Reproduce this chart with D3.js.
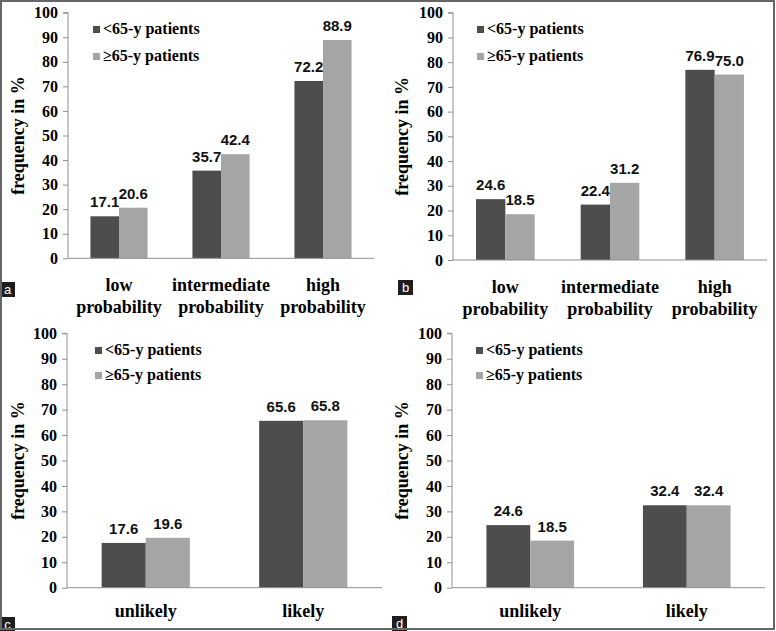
<!DOCTYPE html>
<html>
<head>
<meta charset="utf-8">
<script src="https://cdn.jsdelivr.net/npm/d3@7"></script>
<style>
  html, body { margin: 0; padding: 0; background: #fff; }
  svg { display: block; }
  .serif { font-family: "Liberation Serif", "DejaVu Serif", "Times New Roman", serif; font-weight: bold; }
  .sans { font-family: "Liberation Sans", Arial, sans-serif; font-weight: bold; }
</style>
</head>
<body>
<svg id="chart" width="776" height="631"></svg>
<script>
// ---- data ----
const seriesNames = ["<65-y patients", "\u226565-y patients"];
const categoriesProb = [["low", "probability"], ["intermediate", "probability"], ["high", "probability"]];
const categoriesLik = [["unlikely"], ["likely"]];
const yTicks = [0, 10, 20, 30, 40, 50, 60, 70, 80, 90, 100];

const panelAYoung = [17.1, 35.7, 72.2];
const panelAOld   = [20.6, 42.4, 88.9];
const panelBYoung = [24.6, 22.4, 76.9];
const panelBOld   = [18.5, 31.2, 75.0];
const panelCYoung = [17.6, 65.6];
const panelCOld   = [19.6, 65.8];
const panelDYoung = [24.6, 32.4];
const panelDOld   = [18.5, 32.4];

const panelLetters = ["a", "b", "c", "d"];

// ---- layout / style ----
const colors = ["#4d4d4d", "#a5a5a5"];
const axisColor = "#8f8f8f";

const panels = [
  { cats: categoriesProb, young: panelAYoung, old: panelAOld, x0: 68, x1: 374, yTop: 12.7, yBot: 258.3,
    legend: { x: 93, y: 26, dy: 27 }, titleX: 18, letter: { x: 0, y: 282 }, labelY: 291 },
  { cats: categoriesProb, young: panelBYoung, old: panelBOld, x0: 453, x1: 767, yTop: 12.7, yBot: 260,
    legend: { x: 477, y: 26, dy: 27 }, titleX: 402, letter: { x: 398, y: 280 }, labelY: 293 },
  { cats: categoriesLik, young: panelCYoung, old: panelCOld, x0: 67, x1: 382, yTop: 333.3, yBot: 587.7,
    legend: { x: 95, y: 347, dy: 25 }, titleX: 18, letter: { x: 0, y: 617 }, labelY: 617 },
  { cats: categoriesLik, young: panelDYoung, old: panelDOld, x0: 452, x1: 765, yTop: 333.3, yBot: 587.7,
    legend: { x: 476, y: 347, dy: 25 }, titleX: 402, letter: { x: 392, y: 616 }, labelY: 617 }
];

const svg = d3.select("#chart");

panels.forEach((p, pi) => {
  const g = svg.append("g");
  const catIdx = p.cats.map((c, i) => i);
  const x = d3.scaleBand().domain(catIdx).range([p.x0, p.x1]).padding(0);
  const groupFrac = 0.56;
  const x1 = d3.scaleBand().domain([0, 1])
    .range([x.bandwidth() * (1 - groupFrac) / 2, x.bandwidth() * (1 + groupFrac) / 2]).padding(0);
  const y = d3.scaleLinear().domain([0, 100]).range([p.yBot, p.yTop]);

  // y axis
  const yAxis = d3.axisLeft(y).tickValues(yTicks).tickSize(5).tickPadding(5).tickFormat(d3.format("d"));
  const ya = g.append("g").attr("transform", `translate(${p.x0},0)`).call(yAxis);
  ya.attr("font-family", null).attr("font-size", null);
  ya.select(".domain").attr("stroke", axisColor).attr("d", `M-5,${p.yTop}H0V${p.yBot}`);
  ya.selectAll(".tick line").attr("stroke", axisColor);
  ya.selectAll(".tick text").attr("fill", "#000").attr("class", "serif").style("font-size", "16px");

  // bars
  const data = catIdx.map(i => [p.young[i], p.old[i]]);
  const cg = g.selectAll("g.cat").data(data).join("g").attr("class", "cat")
    .attr("transform", (d, i) => `translate(${x(i)},0)`);
  cg.selectAll("rect").data(d => d.map((v, s) => ({ v, s }))).join("rect")
    .attr("x", d => x1(d.s)).attr("width", x1.bandwidth())
    .attr("y", d => y(d.v)).attr("height", d => y(0) - y(d.v))
    .attr("fill", d => colors[d.s]);
  cg.selectAll("text.val").data(d => d.map((v, s) => ({ v, s }))).join("text").attr("class", "val sans")
    .attr("x", d => x1(d.s) + x1.bandwidth() / 2).attr("y", d => y(d.v) - 9)
    .attr("text-anchor", "middle").style("font-size", "15px")
    .attr("fill", "#111").text(d => d3.format(".1f")(d.v));

  // x axis line
  g.append("line").attr("x1", p.x0).attr("x2", p.x1).attr("y1", y(0)).attr("y2", y(0))
    .attr("stroke", axisColor).attr("stroke-width", 1);

  // category labels
  p.cats.forEach((lines, i) => {
    const t = g.append("text").attr("class", "serif").attr("text-anchor", "middle")
      .attr("x", x(i) + x.bandwidth() / 2).attr("y", p.labelY)
      .style("font-size", "18px").attr("fill", "#000");
    lines.forEach((ln, li) => {
      t.append("tspan").attr("x", x(i) + x.bandwidth() / 2).attr("dy", li === 0 ? 0 : 22).text(ln);
    });
  });

  // y title
  const midY = (p.yTop + p.yBot) / 2;
  g.append("text").attr("class", "serif").attr("transform", `translate(${p.titleX + 6},${midY}) rotate(-90)`)
    .attr("text-anchor", "middle").style("font-size", "18px")
    .attr("fill", "#000").text("frequency in %");

  // legend
  seriesNames.forEach((name, s) => {
    const ly = p.legend.y + s * p.legend.dy;
    g.append("rect").attr("x", p.legend.x).attr("y", ly).attr("width", 7).attr("height", 7).attr("fill", colors[s]);
    g.append("text").attr("class", "serif").attr("x", p.legend.x + 10).attr("y", ly + 8)
      .style("font-size", "16px").attr("fill", "#000").text(name);
  });

  // panel letter
  g.append("rect").attr("x", p.letter.x).attr("y", p.letter.y).attr("width", 15).attr("height", 15).attr("fill", "#1e1e1e");
  g.append("text").attr("x", p.letter.x + 7.5).attr("y", p.letter.y + 11.5).attr("text-anchor", "middle")
    .style("font-family", "'Liberation Sans', Arial, sans-serif").style("font-size", "13px").attr("fill", "#fff").text(panelLetters[pi]);
});

// outer border
svg.append("rect").attr("x", 1).attr("y", 1).attr("width", 773).attr("height", 628)
  .attr("fill", "none").attr("stroke", "#666").attr("stroke-width", 2);
</script>
</body>
</html>
